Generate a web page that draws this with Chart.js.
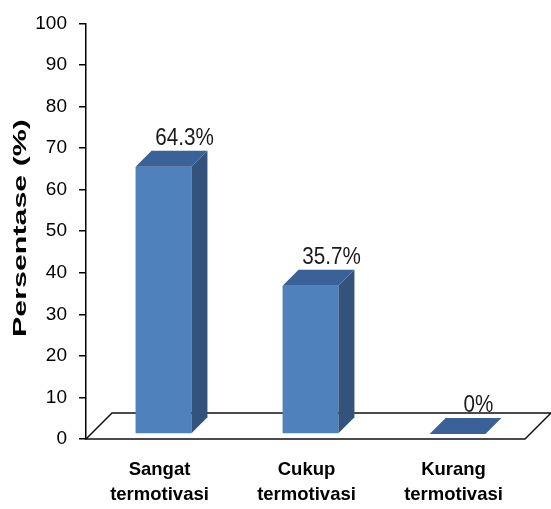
<!DOCTYPE html>
<html>
<head>
<meta charset="utf-8">
<script src="https://cdn.jsdelivr.net/npm/chart.js@4.4.1/dist/chart.umd.min.js"></script>
<style>
  body { margin: 0; background: #fff; }
  canvas { display: block; }
</style>
</head>
<body>
<canvas id="chart" width="551" height="509"></canvas>
<script>
const categories = [
  ["Sangat", "termotivasi"],
  ["Cukup", "termotivasi"],
  ["Kurang", "termotivasi"],
];
const percentages = [64.3, 35.7, 0];
const yTickValues = [0, 10, 20, 30, 40, 50, 60, 70, 80, 90, 100];
const axisTitle = "Persentase (%)";

const SANS = '"Liberation Sans", Arial, sans-serif';
const FRONT = "#4f81bd";
const SIDE = "#33527c";
const TOP = "#3b6298";
const DEPTH = 16;        // bar depth in px
const FLOOR_DEPTH = 26;  // floor depth in px
const INSET = { x: 4, y: -5 };

// fake 3D: floor, bar side/top faces and value labels
const bar3d = {
  id: "bar3d",
  beforeDatasetsDraw(chart) {
    const { ctx, chartArea: a } = chart;
    ctx.save();
    ctx.beginPath();
    ctx.moveTo(a.left, a.bottom);
    ctx.lineTo(a.right - 2, a.bottom);
    ctx.lineTo(a.right - 2 + FLOOR_DEPTH, a.bottom - FLOOR_DEPTH);
    ctx.lineTo(a.left + FLOOR_DEPTH, a.bottom - FLOOR_DEPTH);
    ctx.closePath();
    ctx.fillStyle = "#fff";
    ctx.fill();
    ctx.lineWidth = 1.5;
    ctx.strokeStyle = "#111";
    ctx.stroke();
    ctx.restore();

    ctx.save();
    ctx.translate(INSET.x, INSET.y);
  },
  afterDatasetsDraw(chart) {
    const { ctx } = chart;
    const meta = chart.getDatasetMeta(0);
    meta.data.forEach((bar, i) => {
      const { x, y, base, width } = bar.getProps(["x", "y", "base", "width"], true);
      const l = x - width / 2;
      const r = x + width / 2;

      ctx.fillStyle = SIDE;
      ctx.beginPath();
      ctx.moveTo(r, y);
      ctx.lineTo(r + DEPTH, y - DEPTH);
      ctx.lineTo(r + DEPTH, base - DEPTH);
      ctx.lineTo(r, base);
      ctx.closePath();
      ctx.fill();

      ctx.fillStyle = TOP;
      ctx.beginPath();
      ctx.moveTo(l, y);
      ctx.lineTo(r, y);
      ctx.lineTo(r + DEPTH, y - DEPTH);
      ctx.lineTo(l + DEPTH, y - DEPTH);
      ctx.closePath();
      ctx.fill();

      // value label, slightly condensed
      ctx.save();
      ctx.translate(x + DEPTH + 5, y - DEPTH - 6);
      ctx.scale(0.86, 1);
      ctx.fillStyle = "#1a1a1a";
      ctx.font = "24px " + SANS;
      ctx.textAlign = "center";
      ctx.textBaseline = "alphabetic";
      ctx.fillText(percentages[i] + "%", 0, 0);
      ctx.restore();
    });
    ctx.restore();
  },
  afterDraw(chart) {
    // stretched vertical axis title
    const { ctx } = chart;
    ctx.save();
    ctx.translate(26, 228);
    ctx.rotate(-Math.PI / 2);
    ctx.scale(1.6, 1);
    ctx.font = "bold 19px " + SANS;
    ctx.fillStyle = "#000";
    ctx.textAlign = "center";
    ctx.textBaseline = "alphabetic";
    ctx.fillText(axisTitle, 0, 0);
    ctx.restore();
  },
};

const chart = new Chart(document.getElementById("chart"), {
  type: "bar",
  data: {
    labels: categories,
    datasets: [
      {
        data: percentages,
        backgroundColor: FRONT,
        borderWidth: 0,
        barPercentage: 0.38,
        categoryPercentage: 1,
      },
    ],
  },
  options: {
    responsive: false,
    animation: false,
    layout: { padding: { top: 22, right: 24, left: 0, bottom: 0 } },
    plugins: {
      legend: { display: false },
      tooltip: { enabled: false },
    },
    scales: {
      x: {
        grid: { display: false },
        border: { display: false },
        ticks: {
          color: "#000",
          padding: 10,
          font: { family: SANS, size: 18.5, weight: "bold", lineHeight: 1.35 },
        },
        afterFit(scale) {
          scale.height = 70;
        },
      },
      y: {
        min: 0,
        max: 100,
        grid: { drawOnChartArea: false, drawTicks: true, tickLength: 7, color: "#000", lineWidth: 1.5 },
        border: { color: "#000", width: 1.5 },
        ticks: {
          color: "#000",
          padding: 12,
          font: { family: SANS, size: 19 },
        },
        afterBuildTicks(scale) {
          scale.ticks = yTickValues.map((v) => ({ value: v }));
        },
        afterFit(scale) {
          scale.width = 86;
        },
      },
    },
  },
  plugins: [bar3d],
});
</script>
</body>
</html>
